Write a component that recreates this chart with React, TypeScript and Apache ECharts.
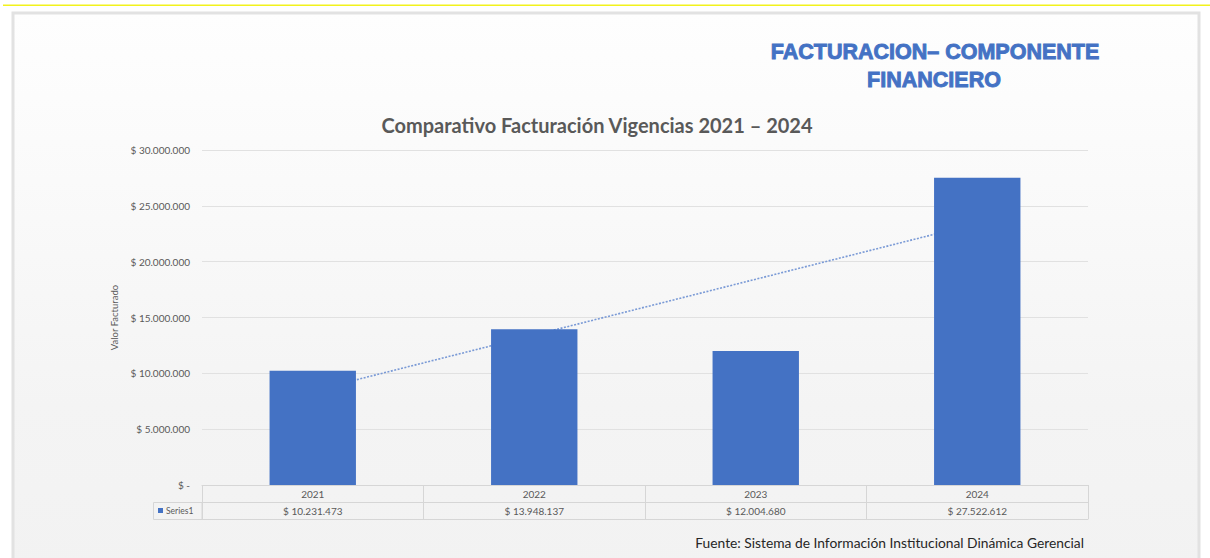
import React, { useEffect, useRef } from "react";
import * as echarts from "echarts";

const years = ["2021", "2022", "2023", "2024"];
const billed = [10231473, 13948137, 12004680, 27522612];
// linear trend line (start at 2021, end at 2024)
const trendLine: (number | null)[] = [8440000, null, null, 23420000];
const yTicks = { min: 0, max: 30000000, interval: 5000000 };
const seriesName = "Series1";

const fmt = (v: number) =>
  v === 0 ? "$ -" : "$ " + Math.round(v).toString().replace(/\B(?=(\d{3})+(?!\d))/g, ".");

const FONT = "Lato, 'Open Sans', sans-serif";
const BLUE = "#4472C4";

export default function App() {
  const ref = useRef<HTMLDivElement>(null);
  useEffect(() => {
    if (!ref.current) return;
    const chart = echarts.init(ref.current, null, { renderer: "svg" });
    const tableLine = { lineStyle: { color: "#d6d6d6", width: 1 } };
    chart.setOption({
      animation: false,
      backgroundColor: "#ffffff",
      grid: { left: 202, right: 122, top: 150, bottom: 73, containLabel: false },
      graphic: [
        {
          type: "rect",
          z: -10,
          shape: { x: 3, y: 4.5, width: 1207, height: 1.5 },
          style: { fill: "#f2f21c" },
        },
        {
          type: "rect",
          z: -10,
          shape: { x: 13, y: 13, width: 1186, height: 560 },
          style: {
            fill: new echarts.graphic.LinearGradient(0, 0, 0, 1, [
              { offset: 0, color: "#fefefe" },
              { offset: 0.3, color: "#fafafa" },
              { offset: 0.7, color: "#f4f4f4" },
              { offset: 1, color: "#f2f2f2" },
            ]),
            stroke: "#e2e2e2",
            lineWidth: 3,
          },
        },
        {
          type: "text",
          x: 935,
          y: 52,
          style: {
            text: "FACTURACION– COMPONENTE",
            font: "bold 21.5px 'Liberation Sans', Arial, sans-serif",
            fill: BLUE,
            stroke: BLUE,
            lineWidth: 0.9,
            textAlign: "center",
            textVerticalAlign: "middle",
          },
        },
        {
          type: "text",
          x: 934,
          y: 80,
          style: {
            text: "FINANCIERO",
            font: "bold 21.5px 'Liberation Sans', Arial, sans-serif",
            fill: BLUE,
            stroke: BLUE,
            lineWidth: 0.9,
            textAlign: "center",
            textVerticalAlign: "middle",
          },
        },
        {
          type: "text",
          x: 597,
          y: 125,
          style: {
            text: "Comparativo Facturación Vigencias 2021 – 2024",
            font: "bold 20px " + FONT,
            fill: "#595959",
            textAlign: "center",
            textVerticalAlign: "middle",
          },
        },
        {
          type: "text",
          x: 1084,
          y: 542,
          style: {
            text: "Fuente: Sistema de Información Institucional Dinámica Gerencial",
            font: "13.8px " + FONT,
            fill: "#262626",
            textAlign: "right",
            textVerticalAlign: "middle",
          },
        },
        {
          type: "rect",
          shape: { x: 153.5, y: 502.5, width: 48.5, height: 17 },
          style: { fill: "none", stroke: "#d6d6d6", lineWidth: 1 },
        },
        {
          type: "rect",
          shape: { x: 158, y: 508, width: 5, height: 5 },
          style: { fill: BLUE },
        },
        {
          type: "text",
          x: 166,
          y: 511,
          style: {
            text: seriesName,
            font: "8.5px " + FONT,
            fill: "#595959",
            textVerticalAlign: "middle",
          },
        },
      ],
      xAxis: [
        {
          type: "category",
          data: years,
          position: "bottom",
          axisLine: { show: true, ...tableLine },
          axisTick: { show: true, length: 34, alignWithLabel: false, ...tableLine },
          axisLabel: { margin: 4, fontSize: 10, color: "#595959", fontFamily: FONT },
        },
        {
          type: "category",
          data: years,
          position: "bottom",
          offset: 17,
          axisLine: { show: true, ...tableLine },
          axisTick: { show: false },
          axisLabel: {
            margin: 4,
            fontSize: 10,
            color: "#595959",
            fontFamily: FONT,
            formatter: (_: string, i: number) => fmt(billed[i]),
          },
        },
        {
          type: "category",
          data: years,
          position: "bottom",
          offset: 34,
          axisLine: { show: true, ...tableLine },
          axisTick: { show: false },
          axisLabel: { show: false },
        },
      ],
      yAxis: {
        type: "value",
        min: yTicks.min,
        max: yTicks.max,
        interval: yTicks.interval,
        name: "Valor Facturado",
        nameLocation: "middle",
        nameGap: 82,
        nameRotate: 90,
        nameTextStyle: { fontSize: 9.5, color: "#595959", fontFamily: FONT },
        axisLine: { show: false },
        axisTick: { show: false },
        axisLabel: {
          margin: 12,
          fontSize: 10,
          color: "#595959",
          fontFamily: FONT,
          formatter: (v: number) => fmt(v),
        },
        splitLine: { lineStyle: { color: "#e1e1e1", width: 1 } },
      },
      series: [
        {
          name: "Trend",
          type: "line",
          data: trendLine,
          connectNulls: true,
          symbol: "none",
          z: 1,
          lineStyle: { color: "#7a9ad6", width: 1.6, type: [2, 1.5] },
        },
        {
          name: seriesName,
          type: "bar",
          data: billed,
          barWidth: "39%",
          z: 2,
          itemStyle: { color: BLUE },
        },
      ],
    });
    return () => chart.dispose();
  }, []);
  return (
    <div
      ref={ref}
      style={{ position: "fixed", left: 0, top: 0, width: 1210, height: 558 }}
    />
  );
}
